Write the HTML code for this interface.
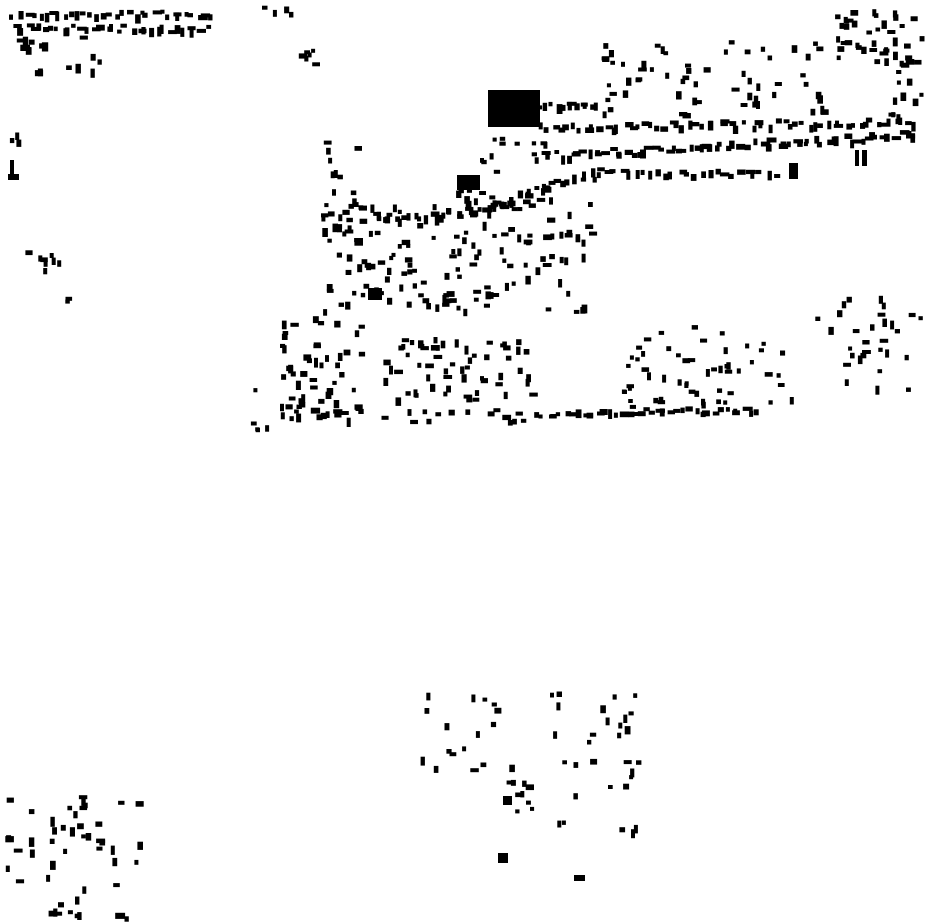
<!DOCTYPE html>
<html><head><meta charset="utf-8"><style>html,body{margin:0;padding:0;background:#fff;width:930px;height:924px;overflow:hidden}</style></head>
<body>
<svg width="930" height="924" viewBox="0 0 930 924" xmlns="http://www.w3.org/2000/svg" fill="#000">
<rect x="488" y="90" width="52" height="37"/>
<rect x="457" y="175" width="23" height="15"/>
<rect x="368" y="288" width="14" height="12"/>
<rect x="789" y="163" width="9" height="16"/>
<rect x="855" y="150" width="4" height="16"/>
<rect x="862" y="150" width="5" height="16"/>
<rect x="8" y="174" width="11" height="6"/>
<rect x="10" y="160" width="4" height="14"/>
<rect x="498" y="853" width="10" height="10"/>
<rect x="574" y="875" width="11" height="6"/>
<rect x="503" y="796" width="9" height="9"/>
<g id="pts">
</g>
</svg>
<script>
(function(){
var g=document.getElementById('pts');
var seed=7;function r(){seed=(seed*16807)%2147483647;return (seed-1)/2147483646;}
function add(x,y,w,h){var e=document.createElementNS('http://www.w3.org/2000/svg','rect');e.setAttribute('x',x.toFixed(1));e.setAttribute('y',y.toFixed(1));e.setAttribute('width',w.toFixed(1));e.setAttribute('height',h.toFixed(1));g.appendChild(e);}
function cl(x0,y0,x1,y1,n,wmin,wmax){for(var i=0;i<n;i++){var w=wmin+r()*(wmax-wmin),h=wmin+r()*(wmax-wmin);if(r()<0.5){h=Math.max(4,h*0.65)}else{w=Math.max(4,w*0.65)}
add(x0+r()*(x1-x0),y0+r()*(y1-y0),w,h);}}
function line(x0,y0,x1,y1,n,j){for(var i=0;i<n;i++){var t=i/n;var x=x0+(x1-x0)*t+(r()-0.5)*j,y=y0+(y1-y0)*t+(r()-0.5)*j;var w=4+r()*6,h=4+r()*6;if(r()<0.5)h=Math.max(4,h*0.6);else w=Math.max(4,w*0.6);add(x,y,w,h);}}
line(12,12,215,12,32,6);line(12,25,210,28,32,6);cl(12,35,120,72,16,4,10);cl(260,5,290,14,4,4,8);cl(285,48,315,66,6,4,9);
cl(5,125,20,140,3,4,8);cl(15,245,60,272,8,4,8);cl(62,292,72,304,2,4,7);
cl(835,8,920,60,40,4,9);cl(600,40,830,115,60,4,9);cl(880,60,920,115,12,4,9);
line(530,105,600,102,14,5);line(540,125,920,120,60,7);line(530,155,920,132,70,8);line(590,170,780,172,26,6);
line(480,205,600,170,22,8);line(380,220,540,200,26,8);
cl(320,140,360,310,42,4,9);cl(360,200,590,310,120,4,9);cl(440,180,560,200,12,4,9);cl(480,135,520,170,8,4,7);cl(525,140,545,160,3,4,7);
cl(280,315,360,420,60,4,10);cl(380,335,535,420,75,4,9);line(540,412,760,408,36,6);cl(620,325,790,405,55,4,8);
cl(810,295,920,390,30,4,9);cl(240,415,270,428,4,4,7);cl(250,380,262,390,1,4,7);
cl(420,688,520,780,18,4,9);cl(550,690,640,830,30,4,9);cl(495,780,535,815,8,4,9);
cl(5,795,140,890,38,4,10);cl(5,895,125,924,10,4,10);
})();
</script>
</body></html>
